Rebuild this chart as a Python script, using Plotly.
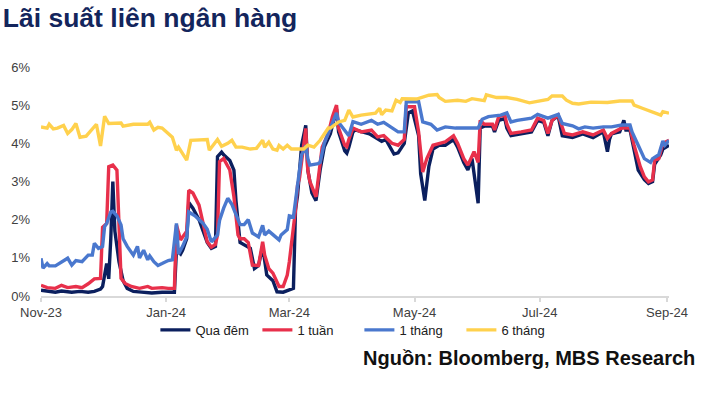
import plotly.graph_objects as go

# ---------------- data ----------------
on_dates = ["2023-11-01","2023-11-04","2023-11-08","2023-11-11","2023-11-16","2023-11-20","2023-11-24","2023-11-27","2023-11-30",
            "2023-12-01","2023-12-02","2023-12-03","2023-12-04","2023-12-05","2023-12-06","2023-12-07","2023-12-09","2023-12-11","2023-12-13",
            "2023-12-16","2023-12-20","2023-12-25","2023-12-30","2024-01-02","2024-01-05","2024-01-06","2024-01-08","2024-01-09","2024-01-11",
            "2024-01-12","2024-01-14","2024-01-17","2024-01-21","2024-01-23","2024-01-25","2024-01-26","2024-01-28","2024-01-29","2024-02-01",
            "2024-02-03","2024-02-04","2024-02-06","2024-02-09","2024-02-11","2024-02-13","2024-02-15","2024-02-17","2024-02-19","2024-02-22",
            "2024-02-24","2024-02-27","2024-03-01","2024-03-03","2024-03-04","2024-03-05","2024-03-07","2024-03-09","2024-03-10","2024-03-12",
            "2024-03-14","2024-03-16","2024-03-18","2024-03-21","2024-03-24","2024-03-25","2024-03-28","2024-03-29","2024-03-30","2024-04-01",
            "2024-04-02","2024-04-06","2024-04-09","2024-04-12","2024-04-15","2024-04-17","2024-04-20","2024-04-21","2024-04-23","2024-04-26",
            "2024-04-28","2024-04-30","2024-05-03","2024-05-04","2024-05-06","2024-05-08","2024-05-10","2024-05-13","2024-05-16","2024-05-20",
            "2024-05-22","2024-05-25","2024-05-27","2024-05-29","2024-06-01","2024-06-02","2024-06-04","2024-06-08","2024-06-09","2024-06-11",
            "2024-06-14","2024-06-15","2024-06-17","2024-06-22","2024-06-27","2024-06-30","2024-07-03","2024-07-05","2024-07-07","2024-07-10",
            "2024-07-12","2024-07-17","2024-07-22","2024-07-27","2024-08-01","2024-08-03","2024-08-04","2024-08-05","2024-08-09","2024-08-11",
            "2024-08-12","2024-08-14","2024-08-16","2024-08-18","2024-08-21","2024-08-23","2024-08-25","2024-08-26","2024-08-29","2024-08-30",
            "2024-09-02"]
on_vals = [0.15,0.12,0.10,0.13,0.10,0.12,0.10,0.12,0.18,
           0.25,0.50,0.85,0.45,1.50,3.00,1.70,0.90,0.40,0.20,
           0.12,0.10,0.08,0.10,0.09,0.10,1.20,1.10,1.20,1.50,
           2.45,2.30,2.00,1.40,1.25,1.30,3.65,3.77,3.70,3.55,
           3.30,2.50,1.40,1.30,1.25,0.72,0.80,1.30,0.55,0.40,
           0.11,0.10,0.15,0.20,2.25,2.64,3.95,4.47,3.30,2.70,
           2.50,3.30,3.90,4.25,4.90,4.30,3.80,3.74,3.90,4.30,
           4.35,4.30,4.25,4.15,4.05,4.10,3.80,3.72,3.75,4.00,
           4.80,4.85,4.20,3.20,2.50,3.40,3.85,3.95,3.95,4.10,
           3.90,3.50,3.30,3.60,2.43,4.40,4.45,4.45,4.30,4.60,
           4.65,4.40,4.20,4.25,4.30,4.60,4.55,4.20,4.60,4.72,
           4.20,4.15,4.25,4.15,4.30,3.78,4.10,4.25,4.30,4.60,
           4.35,4.35,3.85,3.30,3.05,2.95,3.00,3.45,3.70,3.85,
           3.95]

w1_dates = ["2023-11-01","2023-11-04","2023-11-08","2023-11-11","2023-11-14","2023-11-18","2023-11-21","2023-11-24","2023-11-27","2023-11-30",
            "2023-12-01","2023-12-03","2023-12-04","2023-12-06","2023-12-08","2023-12-09","2023-12-10","2023-12-12","2023-12-15","2023-12-19",
            "2023-12-23","2023-12-25","2023-12-30","2024-01-02","2024-01-05","2024-01-06","2024-01-08","2024-01-11","2024-01-12","2024-01-14",
            "2024-01-17","2024-01-21","2024-01-23","2024-01-25","2024-01-26","2024-01-27","2024-01-29","2024-01-31","2024-02-01","2024-02-03",
            "2024-02-05","2024-02-06","2024-02-08","2024-02-10","2024-02-12","2024-02-15","2024-02-17","2024-02-18","2024-02-20","2024-02-22",
            "2024-02-25","2024-02-27","2024-02-29","2024-03-01","2024-03-03","2024-03-04","2024-03-05","2024-03-06","2024-03-08","2024-03-09",
            "2024-03-10","2024-03-11","2024-03-14","2024-03-15","2024-03-17","2024-03-20","2024-03-22","2024-03-24","2024-03-25","2024-03-28",
            "2024-03-29","2024-03-30","2024-04-01","2024-04-05","2024-04-10","2024-04-13","2024-04-16","2024-04-20","2024-04-23","2024-04-26",
            "2024-04-27","2024-05-01","2024-05-03","2024-05-05","2024-05-07","2024-05-10","2024-05-16","2024-05-20","2024-05-22","2024-05-25",
            "2024-05-27","2024-05-30","2024-06-01","2024-06-02","2024-06-04","2024-06-08","2024-06-09","2024-06-11","2024-06-14","2024-06-15",
            "2024-06-17","2024-06-22","2024-06-27","2024-06-30","2024-07-03","2024-07-05","2024-07-07","2024-07-10","2024-07-13","2024-07-17",
            "2024-07-22","2024-07-27","2024-08-01","2024-08-03","2024-08-05","2024-08-10","2024-08-14","2024-08-16","2024-08-19","2024-08-21",
            "2024-08-23","2024-08-25","2024-08-26","2024-08-28","2024-08-30","2024-09-02"]
w1_vals = [0.28,0.22,0.20,0.28,0.22,0.25,0.22,0.32,0.45,0.46,
           1.80,1.90,3.39,3.43,3.30,1.70,0.46,0.33,0.25,0.20,
           0.25,0.20,0.22,0.20,0.20,1.86,1.47,1.70,2.77,2.70,
           2.38,1.42,1.28,1.35,1.60,3.52,3.60,3.40,3.30,2.60,
           1.60,1.50,1.50,1.40,0.81,0.80,1.42,1.07,0.72,0.60,
           0.25,0.25,0.55,0.90,1.77,2.25,2.90,3.10,3.95,4.39,
           3.30,3.00,2.60,3.10,3.90,4.26,4.70,5.00,4.40,3.95,
           3.91,4.10,4.40,4.30,4.35,4.17,4.20,4.00,3.95,4.10,
           4.96,4.96,4.30,3.25,3.60,3.95,4.04,4.20,4.00,3.60,
           3.43,3.78,3.50,4.60,4.50,4.50,4.35,4.70,4.74,4.50,
           4.26,4.30,4.35,4.66,4.60,4.26,4.60,4.74,4.26,4.22,
           4.30,4.22,4.35,4.13,4.26,4.40,4.40,3.95,3.39,3.12,
           2.99,3.04,3.56,3.60,4.00,4.08]

m1_dates = ["2023-11-01","2023-11-02","2023-11-04","2023-11-05","2023-11-08","2023-11-10","2023-11-14","2023-11-16","2023-11-18","2023-11-21",
            "2023-11-24","2023-11-26","2023-11-27","2023-11-29","2023-12-01","2023-12-02","2023-12-03","2023-12-05","2023-12-06","2023-12-08",
            "2023-12-10","2023-12-11","2023-12-13","2023-12-16","2023-12-18","2023-12-19","2023-12-21","2023-12-23","2023-12-24","2023-12-26",
            "2023-12-28","2023-12-30","2024-01-02","2024-01-04","2024-01-06","2024-01-07","2024-01-09","2024-01-11","2024-01-12","2024-01-15",
            "2024-01-17","2024-01-19","2024-01-21","2024-01-23","2024-01-26","2024-01-27","2024-01-29","2024-01-31","2024-02-02","2024-02-05",
            "2024-02-06","2024-02-08","2024-02-10","2024-02-12","2024-02-15","2024-02-17","2024-02-18","2024-02-20","2024-02-22","2024-02-25",
            "2024-02-26","2024-02-29","2024-03-01","2024-03-03","2024-03-05","2024-03-07","2024-03-08","2024-03-09","2024-03-10","2024-03-11",
            "2024-03-15","2024-03-16","2024-03-18","2024-03-21","2024-03-24","2024-03-25","2024-03-28","2024-03-30","2024-04-01","2024-04-05",
            "2024-04-10","2024-04-13","2024-04-16","2024-04-20","2024-04-23","2024-04-26","2024-04-27","2024-05-03","2024-05-05","2024-05-09",
            "2024-05-12","2024-05-16","2024-05-21","2024-05-26","2024-06-01","2024-06-03","2024-06-06","2024-06-12","2024-06-15","2024-06-17",
            "2024-06-20","2024-06-27","2024-06-30","2024-07-05","2024-07-10","2024-07-12","2024-07-17","2024-07-20","2024-07-23","2024-07-27",
            "2024-08-01","2024-08-05","2024-08-10","2024-08-14","2024-08-15","2024-08-18","2024-08-21","2024-08-24","2024-08-25","2024-08-28",
            "2024-08-30","2024-08-31","2024-09-02"]
m1_vals = [0.99,0.73,0.85,0.79,0.79,0.85,0.99,0.81,0.93,0.90,
           1.07,1.07,1.38,1.25,1.30,1.82,1.90,2.20,2.22,2.10,
           1.86,1.50,1.30,1.07,1.30,1.00,1.20,0.95,1.05,0.90,
           0.80,0.85,0.93,0.95,1.90,1.10,1.30,1.55,2.20,2.10,
           2.00,1.90,1.75,1.42,1.60,1.98,2.30,2.56,2.40,2.00,
           1.87,1.87,2.00,1.65,1.55,1.85,1.60,1.70,1.60,1.47,
           1.60,1.74,2.10,2.07,2.90,3.70,3.80,3.95,3.60,3.43,
           3.47,3.50,4.00,4.43,4.80,4.55,4.35,4.20,4.57,4.50,
           4.60,4.50,4.55,4.40,4.30,4.30,5.09,5.09,4.56,4.50,
           4.35,4.43,4.40,4.40,4.40,4.63,4.70,4.74,4.80,4.56,
           4.60,4.66,4.76,4.66,4.76,4.52,4.46,4.38,4.43,4.40,
           4.43,4.43,4.48,4.48,4.30,3.95,3.60,3.50,3.60,3.70,
           4.06,3.95,4.08]

m6_dates = ["2023-11-01","2023-11-04","2023-11-05","2023-11-07","2023-11-09","2023-11-12","2023-11-14","2023-11-16","2023-11-18","2023-11-20",
            "2023-11-23","2023-11-26","2023-11-28","2023-11-30","2023-12-02","2023-12-04","2023-12-10","2023-12-11","2023-12-16","2023-12-23",
            "2023-12-24","2023-12-26","2023-12-28","2023-12-30","2024-01-02","2024-01-04","2024-01-06","2024-01-07","2024-01-09","2024-01-11",
            "2024-01-13","2024-01-21","2024-01-22","2024-01-25","2024-01-26","2024-01-28","2024-01-31","2024-02-02","2024-02-04","2024-02-07",
            "2024-02-11","2024-02-14","2024-02-17","2024-02-18","2024-02-20","2024-02-22","2024-02-24","2024-02-25","2024-02-27","2024-02-29",
            "2024-03-02","2024-03-08","2024-03-10","2024-03-13","2024-03-16","2024-03-20","2024-03-21","2024-03-25","2024-03-28","2024-03-30",
            "2024-04-01","2024-04-05","2024-04-12","2024-04-14","2024-04-15","2024-04-17","2024-04-20","2024-04-22","2024-04-24","2024-04-25",
            "2024-04-30","2024-05-02","2024-05-08","2024-05-12","2024-05-13","2024-05-16","2024-05-22","2024-05-26","2024-05-29","2024-06-04",
            "2024-06-05","2024-06-10","2024-06-15","2024-06-20","2024-06-26","2024-07-05","2024-07-07","2024-07-12","2024-07-14","2024-07-17",
            "2024-07-20","2024-07-26","2024-08-03","2024-08-09","2024-08-15","2024-08-16","2024-08-20","2024-08-24","2024-08-29","2024-08-30",
            "2024-09-02"]
m6_vals = [4.43,4.40,4.50,4.38,4.40,4.47,4.26,4.36,4.52,4.16,
           4.19,4.36,4.50,3.93,4.71,4.52,4.53,4.45,4.50,4.50,
           4.55,4.35,4.42,4.40,4.26,4.16,3.82,3.90,3.73,3.56,
           4.08,4.10,3.82,4.05,4.10,3.92,4.00,4.08,3.90,3.90,
           3.85,3.87,4.08,3.90,4.03,3.85,3.82,3.94,3.85,3.95,
           3.85,3.85,3.95,3.90,4.08,4.40,4.40,4.56,4.60,4.87,
           4.69,4.74,4.79,4.92,4.75,4.87,4.85,5.13,5.07,5.17,
           5.15,5.16,5.26,5.28,5.20,5.10,5.13,5.10,5.17,5.12,
           5.27,5.20,5.20,5.15,5.06,5.15,5.24,5.24,5.13,5.05,
           5.03,5.08,5.07,5.11,5.11,5.00,4.92,4.83,4.74,4.83,
           4.79]

series_names = ["Qua đêm", "1 tuần", "1 tháng", "6 tháng"]
series_colors = ["#0B1F5E", "#E8304B", "#4A78CE", "#FFD14D"]

tick_vals = ["2023-11-01", "2024-01-01", "2024-03-01", "2024-05-01", "2024-07-01", "2024-09-01"]
tick_text = ["Nov-23", "Jan-24", "Mar-24", "May-24", "Jul-24", "Sep-24"]
y_ticks = [0, 1, 2, 3, 4, 5, 6]
y_text = ["0%", "1%", "2%", "3%", "4%", "5%", "6%"]

title_text = "Lãi suất liên ngân hàng"
source_text = "Nguồn: Bloomberg, MBS Research"

# ---------------- figure ----------------
fig = go.Figure()
for name, color, xs, ys in zip(series_names, series_colors,
                               [on_dates, w1_dates, m1_dates, m6_dates],
                               [on_vals, w1_vals, m1_vals, m6_vals]):
    fig.add_trace(go.Scatter(x=xs, y=ys, mode="lines", name=name,
                             line=dict(color=color, width=3.4)))

FONT = "Liberation Sans, Arial, sans-serif"
fig.update_layout(
    width=701, height=394,
    margin=dict(l=41, r=32, t=67, b=98),
    paper_bgcolor="white", plot_bgcolor="white",
    font=dict(family=FONT, size=13, color="#404040"),
    title=dict(text="<b>" + title_text + "</b>", x=0.004, xanchor="left",
               y=1 - 18 / 394, yanchor="middle", yref="container",
               font=dict(family=FONT, size=26.5, color="#13255C")),
    showlegend=True,
    legend=dict(orientation="h", x=0.507, xanchor="center", y=-0.148, yanchor="middle",
                font=dict(family=FONT, size=13, color="#202020"),
                itemwidth=30, entrywidth=57, tracegroupgap=0, bgcolor="rgba(0,0,0,0)"),
    xaxis=dict(type="date", range=["2023-11-01", "2024-09-02"],
               tickmode="array", tickvals=tick_vals, ticktext=tick_text,
               showgrid=False, zeroline=False,
               showline=True, linecolor="#D9D9D9", linewidth=1.5,
               ticks="outside", ticklen=4, tickcolor="#D9D9D9", tickwidth=1.5,
               tickfont=dict(family=FONT, size=13, color="#404040")),
    yaxis=dict(range=[0, 6], tickmode="array", tickvals=y_ticks, ticktext=y_text,
               showgrid=False, zeroline=False, showline=False,
               ticks="", ticklabelstandoff=10,
               tickfont=dict(family=FONT, size=13, color="#404040")),
    annotations=[dict(text="<b>" + source_text + "</b>", xref="paper", yref="paper",
                      x=1.045, y=-0.271, xanchor="right", yanchor="middle",
                      showarrow=False, font=dict(family=FONT, size=20, color="#111111"))],
)

fig.write_html("out.html", config={"displayModeBar": False},
               post_script="document.body.style.margin='0';document.body.style.overflow='hidden';")
